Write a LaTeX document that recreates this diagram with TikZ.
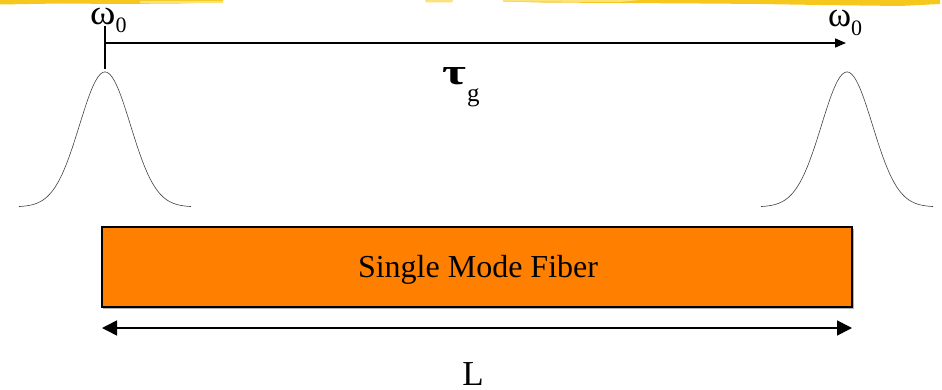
\documentclass[tikz,border=0pt]{standalone}
\usepackage{fontspec}
\usepackage{graphicx}
\setmainfont{Liberation Serif}
\usetikzlibrary{arrows.meta}
\definecolor{fiber}{HTML}{FF7F00}
\definecolor{deco}{HTML}{F6C81E}
\definecolor{decolight}{HTML}{FBE27A}
\begin{document}
\begin{tikzpicture}[x=1pt,y=1pt,
  lbl/.style={inner sep=0pt, anchor=base west},
  pulse/.style={draw=black!75, line width=0.6pt},
  arr/.style={line width=1.6pt, -{Triangle[length=11pt,width=9pt]}},
  dbl/.style={line width=1.6pt, {Triangle[length=15pt,width=15pt]}-{Triangle[length=15pt,width=15pt]}},
  fiberbox/.style={fill=fiber, draw=black, line width=1.8pt}]
\useasboundingbox (0,0) rectangle (942,-390);
% top decoration (cropped background)
\fill[deco] (0,0) -- (223,0) -- (223,-2) -- (180,-3.5) -- (120,-4) -- (60,-3.5) -- (0,-4.5) -- cycle;
\fill[decolight] (140,-1) -- (223,-1) -- (223,-3) -- (140,-3.5) -- cycle;
\fill[decolight] (425,0) -- (453,0) -- (452,-2.5) -- (426,-2.5) -- cycle;
\fill[deco] (503,0) -- (940,0) -- (940,-4) -- (900,-6) -- (820,-5) -- (760,-4) -- (700,-3.5) -- (620,-3) -- (540,-2.5) -- (503,-1.5) -- cycle;
\fill[decolight] (503,0) -- (640,0) -- (620,-2) -- (503,-1.5) -- cycle;
% coordinates
\coordinate (tickTop) at (105,-26);
\coordinate (tickBot) at (105,-69);
\coordinate (arrStart) at (105,-43);
\coordinate (arrEnd) at (846,-43);
% pulses
\draw[pulse] plot[domain=-86:86, samples=120] ({105+\x}, {-207+135*exp(-(\x)*(\x)/1300)});
\draw[pulse] plot[domain=-86:86, samples=120] ({847+\x}, {-207+135*exp(-(\x)*(\x)/1300)});
% tick and group delay arrow
\draw[line width=1.6pt] (tickTop) -- (tickBot);
\draw[arr] (arrStart) -- (arrEnd);
\node[lbl] (w0l) at (90,-25) {\fontsize{35}{35}\selectfont\scalebox{1.1}[1]{ω}\raisebox{-8pt}{\fontsize{22}{22}\selectfont 0}};
\node[lbl] (w0r) at (828,-27) {\fontsize{35}{35}\selectfont ω\raisebox{-9pt}{\fontsize{22}{22}\selectfont 0}};
\node[lbl] (tau) at (442,-85) {\fontsize{37}{37}\selectfont\bfseries\scalebox{1.4}[1]{τ}\hspace{1pt}\raisebox{-17pt}{\fontsize{25}{25}\selectfont\mdseries g}};
% fiber
\fill[black!30] (103,-229) rectangle (854,-309);
\node[fiberbox, minimum width=750pt, minimum height=80pt, inner sep=0pt] (fiber) at (477,-267) {};
\node[inner sep=0pt, anchor=base] (fibtxt) at (478,-277) {\fontsize{32}{32}\selectfont Single Mode Fiber};
% length arrow
\coordinate (lenL) at (102,-328);
\coordinate (lenR) at (852,-328);
\draw[dbl] (lenL) -- (lenR);
\node[inner sep=0pt, anchor=base] (L) at (473,-385) {\fontsize{35}{35}\selectfont L};
\end{tikzpicture}
\end{document}
